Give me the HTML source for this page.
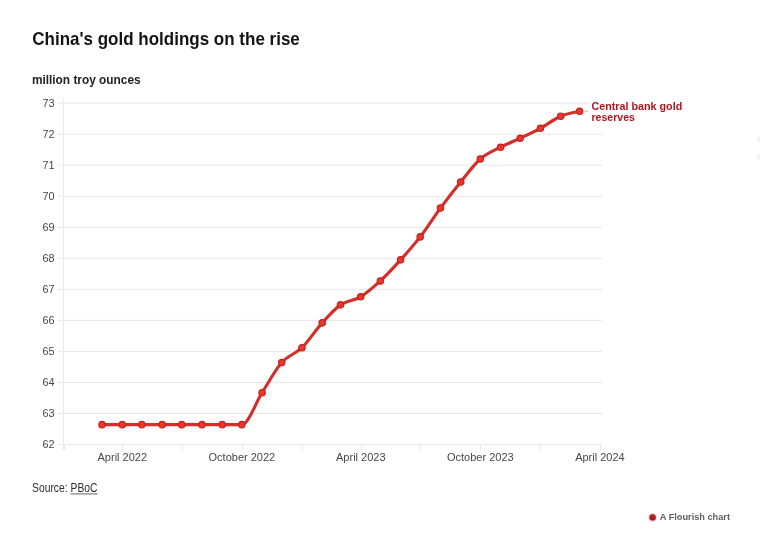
<!DOCTYPE html>
<html><head><meta charset="utf-8"><style>
html,body{margin:0;padding:0;background:#fff;width:760px;height:544px;overflow:hidden}
svg{display:block;will-change:transform}
text{font-family:"Liberation Sans",sans-serif}
.g{stroke:#e7e7e7;stroke-width:1}
.t{stroke:#e9e9e9;stroke-width:1}
.yl{font-size:10.9px;fill:#474747;text-anchor:end}
.xl{font-size:11px;fill:#474747;text-anchor:middle}
.d{fill:#e8372c;stroke:#c5231d;stroke-width:1.2}
</style></head><body>
<svg width="760" height="544" viewBox="0 0 760 544">
<rect width="760" height="544" fill="#fff"/>
<text x="32.3" y="44.8" font-size="17.7" font-weight="bold" fill="#141414" textLength="267.5" lengthAdjust="spacingAndGlyphs">China's gold holdings on the rise</text>
<text x="31.9" y="84.4" font-size="12.9" font-weight="bold" fill="#222" textLength="108.7" lengthAdjust="spacingAndGlyphs">million troy ounces</text>
<line x1="57.5" y1="444.50" x2="602" y2="444.50" class="g"/><text x="54.6" y="448.3" class="yl">62</text><line x1="57.5" y1="413.47" x2="602" y2="413.47" class="g"/><text x="54.6" y="417.3" class="yl">63</text><line x1="57.5" y1="382.44" x2="602" y2="382.44" class="g"/><text x="54.6" y="386.2" class="yl">64</text><line x1="57.5" y1="351.41" x2="602" y2="351.41" class="g"/><text x="54.6" y="355.2" class="yl">65</text><line x1="57.5" y1="320.38" x2="602" y2="320.38" class="g"/><text x="54.6" y="324.2" class="yl">66</text><line x1="57.5" y1="289.35" x2="602" y2="289.35" class="g"/><text x="54.6" y="293.2" class="yl">67</text><line x1="57.5" y1="258.32" x2="602" y2="258.32" class="g"/><text x="54.6" y="262.1" class="yl">68</text><line x1="57.5" y1="227.29" x2="602" y2="227.29" class="g"/><text x="54.6" y="231.1" class="yl">69</text><line x1="57.5" y1="196.26" x2="602" y2="196.26" class="g"/><text x="54.6" y="200.1" class="yl">70</text><line x1="57.5" y1="165.23" x2="602" y2="165.23" class="g"/><text x="54.6" y="169.0" class="yl">71</text><line x1="57.5" y1="134.20" x2="602" y2="134.20" class="g"/><text x="54.6" y="138.0" class="yl">72</text><line x1="57.5" y1="103.17" x2="590" y2="103.17" class="g"/><text x="54.6" y="107.0" class="yl">73</text>
<line x1="63.5" y1="98" x2="63.5" y2="450" class="t"/>
<line x1="64.5" y1="444.5" x2="64.5" y2="450" class="t"/><line x1="122.5" y1="444.5" x2="122.5" y2="450" class="t"/><line x1="182.5" y1="444.5" x2="182.5" y2="450" class="t"/><line x1="242.5" y1="444.5" x2="242.5" y2="450" class="t"/><line x1="302.5" y1="444.5" x2="302.5" y2="450" class="t"/><line x1="361.5" y1="444.5" x2="361.5" y2="450" class="t"/><line x1="420.5" y1="444.5" x2="420.5" y2="450" class="t"/><line x1="480.5" y1="444.5" x2="480.5" y2="450" class="t"/><line x1="540.5" y1="444.5" x2="540.5" y2="450" class="t"/><line x1="600.5" y1="444.5" x2="600.5" y2="450" class="t"/>
<text x="122.3" y="461.2" class="xl">April 2022</text><text x="241.9" y="461.2" class="xl">October 2022</text><text x="360.8" y="461.2" class="xl">April 2023</text><text x="480.3" y="461.2" class="xl">October 2023</text><text x="599.9" y="461.2" class="xl">April 2024</text>
<path d="M102.04,424.64 C108.80,424.64 115.55,424.64 122.30,424.64 C128.83,424.64 135.36,424.64 141.90,424.64 C148.65,424.64 155.40,424.64 162.15,424.64 C168.68,424.64 175.21,424.64 181.75,424.64 C188.50,424.64 195.25,424.64 202.00,424.64 C208.75,424.64 215.50,424.64 222.25,424.64 C228.78,424.64 235.32,424.64 241.85,424.64 C248.60,424.64 255.35,403.19 262.10,392.68 C268.64,382.51 275.17,370.04 281.70,362.58 C288.45,354.87 295.20,354.31 301.95,347.69 C308.71,341.07 315.46,330.28 322.21,322.86 C328.30,316.16 334.40,309.17 340.50,304.87 C347.25,300.10 354.00,300.89 360.75,296.80 C367.28,292.84 373.82,287.00 380.35,280.97 C387.10,274.74 393.85,267.35 400.60,259.87 C407.14,252.63 413.67,245.38 420.20,236.91 C426.95,228.16 433.70,217.21 440.45,208.05 C447.20,198.90 453.96,190.28 460.71,181.99 C467.24,173.96 473.77,164.78 480.31,159.02 C487.06,153.07 493.81,150.74 500.56,147.23 C507.09,143.84 513.62,141.33 520.16,138.23 C526.91,135.03 533.66,131.98 540.41,128.30 C547.16,124.63 553.91,119.07 560.66,116.20 C566.98,113.52 573.29,112.38 579.61,111.24" fill="none" stroke="#d52e2a" stroke-width="3.1" stroke-linejoin="round" stroke-linecap="round"/>
<circle cx="102.04" cy="424.64" r="3.2" class="d"/><circle cx="122.30" cy="424.64" r="3.2" class="d"/><circle cx="141.90" cy="424.64" r="3.2" class="d"/><circle cx="162.15" cy="424.64" r="3.2" class="d"/><circle cx="181.75" cy="424.64" r="3.2" class="d"/><circle cx="202.00" cy="424.64" r="3.2" class="d"/><circle cx="222.25" cy="424.64" r="3.2" class="d"/><circle cx="241.85" cy="424.64" r="3.2" class="d"/><circle cx="262.10" cy="392.68" r="3.2" class="d"/><circle cx="281.70" cy="362.58" r="3.2" class="d"/><circle cx="301.95" cy="347.69" r="3.2" class="d"/><circle cx="322.21" cy="322.86" r="3.2" class="d"/><circle cx="340.50" cy="304.87" r="3.2" class="d"/><circle cx="360.75" cy="296.80" r="3.2" class="d"/><circle cx="380.35" cy="280.97" r="3.2" class="d"/><circle cx="400.60" cy="259.87" r="3.2" class="d"/><circle cx="420.20" cy="236.91" r="3.2" class="d"/><circle cx="440.45" cy="208.05" r="3.2" class="d"/><circle cx="460.71" cy="181.99" r="3.2" class="d"/><circle cx="480.31" cy="159.02" r="3.2" class="d"/><circle cx="500.56" cy="147.23" r="3.2" class="d"/><circle cx="520.16" cy="138.23" r="3.2" class="d"/><circle cx="540.41" cy="128.30" r="3.2" class="d"/><circle cx="560.66" cy="116.20" r="3.2" class="d"/><circle cx="579.61" cy="111.24" r="3.2" class="d"/>
<line x1="584.5" y1="111.3" x2="588" y2="111.3" stroke="#bbb" stroke-width="1"/>
<text x="591.5" y="109.9" font-size="11.2" font-weight="bold" fill="#b1141c" textLength="90.7" lengthAdjust="spacingAndGlyphs">Central bank gold</text>
<text x="591.5" y="120.8" font-size="11.2" font-weight="bold" fill="#b1141c" textLength="43.4" lengthAdjust="spacingAndGlyphs">reserves</text>
<text x="32" y="492.2" font-size="12.2" fill="#2e2e2e" textLength="65.5" lengthAdjust="spacingAndGlyphs">Source: PBoC</text>
<line x1="70.6" y1="493.9" x2="97.6" y2="493.9" stroke="#555" stroke-width="0.9"/>
<circle cx="652.6" cy="517.4" r="4.4" fill="#f6cfcf"/><circle cx="652.6" cy="517.4" r="3.2" fill="#a91d21"/>
<text x="659.8" y="520.1" font-size="9.3" font-weight="bold" fill="#606060" textLength="70.2" lengthAdjust="spacingAndGlyphs">A Flourish chart</text>
<rect x="757" y="137" width="3" height="5" fill="#f2f2f2"/><rect x="757" y="154" width="3" height="6" fill="#f2f2f2"/>
</svg>
</body></html>
